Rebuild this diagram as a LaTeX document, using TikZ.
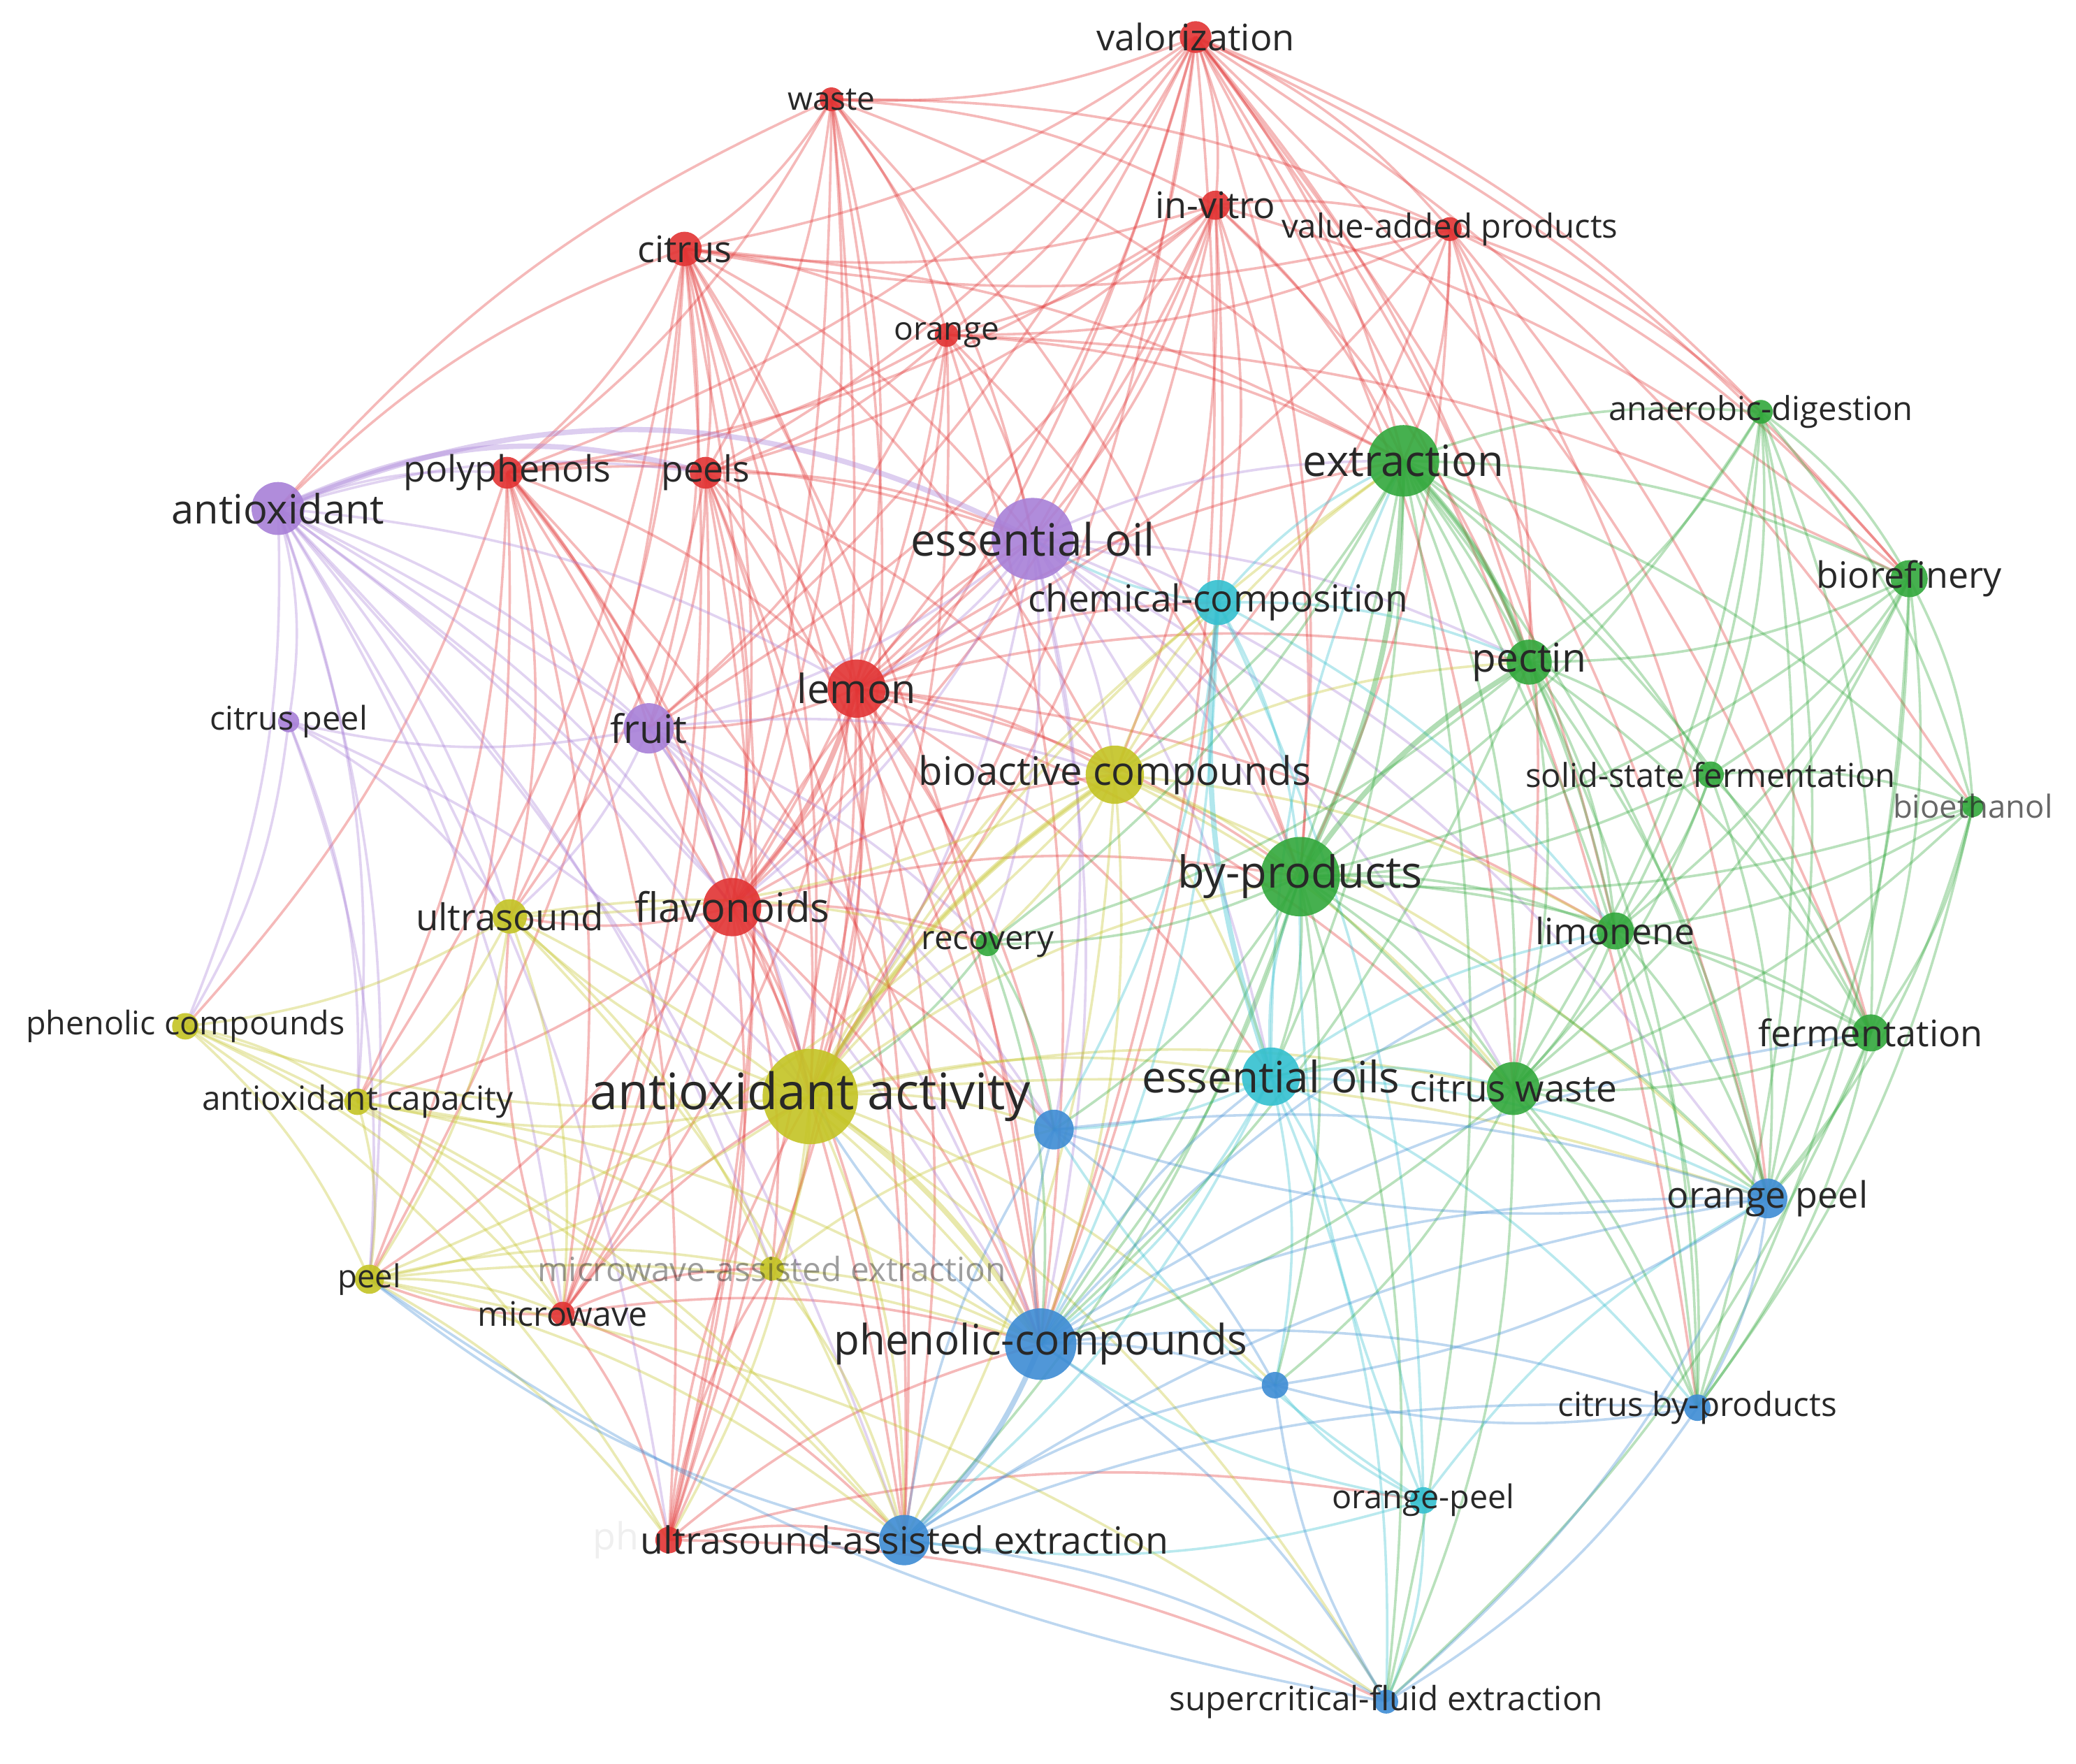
\documentclass[tikz,border=0pt]{standalone}
\usepackage{fontspec}
\setmainfont{Open Sans}
\usetikzlibrary{backgrounds}
\definecolor{cR}{RGB}{226,52,52}
\definecolor{cY}{RGB}{196,196,36}
\definecolor{cP}{RGB}{168,128,216}
\definecolor{cC}{RGB}{52,192,208}
\definecolor{cG}{RGB}{50,168,60}
\definecolor{cB}{RGB}{62,140,212}
\definecolor{txt}{RGB}{40,40,40}
\begin{document}
\begin{tikzpicture}[x=0.5pt,y=-0.5pt,
  kw/.style={circle,inner sep=0pt,minimum size=#1},
  lab/.style={text=txt,inner sep=0pt,font=\fontsize{#1}{#1}\selectfont},
  e/.style={draw opacity=0.34,line width=0.95pt,bend left=12},
  et/.style={draw opacity=0.38,line width=2pt,bend left=12}]
\useasboundingbox (0,0) rectangle (1568,1332);
% ---------- nodes (circles) ----------
\foreach \n/\x/\y/\r/\c in {
 valor/903/28/12/cR, waste/628/75/9/cR, invitro/918/155/11/cR, vap/1095/173/9/cR,
 citrus/517/188/13/cR, orange/715/253/9/cR, polyph/383/357/12/cR, peels/533/357/12/cR,
 lemon/647/520/22/cR, flav/553/685/22/cR, micro/425/992/9/cR, ph/505/1163/10/cR,
 aa/612/828/36/cY, bioact/842/585/22/cY, ultra/385/692/13/cY, phenc/140/775/10/cY,
 acap/270/832/10/cY, peel/279/966/11/cY, mae/583/958/9/cY,
 antiox/210/384/20/cP, eoil/780/407/31/cP, fruit/490/550/19/cP, cpeel/218/545/8/cP,
 chem/920/455/17/cC, eoils/960/813/22/cC, opeeltwo/1075/1133/10/cC,
 extr/1060/348/27/cG, anaer/1330/311/9/cG, bioref/1442/437/14/cG, pectin/1155/500/17/cG,
 ssf/1292/585/10/cG, bioeth/1490/609/8/cG, byp/982/662/30/cG, limon/1220/703/14/cG,
 recov/746/713/9/cG, ferm/1413/780/14/cG, cwaste/1143/822/20/cG,
 phc/786/1015/27/cB, uae/683/1163/19/cB, opeel/1335/905/15/cB, cbyp/1282/1063/10/cB,
 sfe/1047/1285/9/cB, bone/796/853/15/cB, btwo/963/1046/10/cB}
 {\node[kw=\r pt,fill=\c,fill opacity=0.9] (\n) at (\x,\y) {};}
\coordinate (phlab) at (483,1163);
% ---------- edges ----------
\begin{scope}[on background layer]
\fill[white] (0,0) rectangle (1568,1332);
\foreach \a/\b in {valor/waste,valor/invitro,valor/vap,valor/citrus,valor/orange,valor/peels,valor/lemon,valor/extr,valor/byp,valor/pectin,valor/anaer,valor/bioref,valor/cwaste,valor/opeel,valor/eoil,valor/aa,valor/polyph,valor/flav,valor/bioeth,valor/ferm,valor/phc,valor/cbyp,valor/limon,valor/fruit,
 waste/citrus,waste/invitro,waste/orange,waste/peels,waste/polyph,waste/lemon,waste/flav,waste/vap,waste/extr,waste/byp,antiox/waste,waste/aa,waste/micro,waste/ph,waste/eoil,
 invitro/citrus,invitro/vap,invitro/orange,invitro/lemon,invitro/flav,invitro/peels,invitro/polyph,invitro/aa,invitro/eoil,invitro/fruit,invitro/bioact,invitro/extr,invitro/byp,invitro/phc,invitro/chem,invitro/bioref,invitro/pectin,
 vap/orange,vap/extr,vap/byp,vap/pectin,vap/bioact,vap/lemon,vap/citrus,vap/anaer,vap/bioref,vap/ferm,vap/cwaste,vap/opeel,
 citrus/orange,citrus/polyph,citrus/peels,citrus/lemon,citrus/flav,citrus/fruit,citrus/aa,citrus/eoil,citrus/ultra,citrus/micro,citrus/ph,citrus/phc,citrus/uae,antiox/citrus,citrus/extr,citrus/bioact,citrus/peel,citrus/acap,
 orange/peels,orange/lemon,orange/flav,orange/eoil,orange/aa,orange/byp,orange/extr,orange/phc,orange/polyph,orange/bioref,orange/fruit,
 polyph/peels,polyph/lemon,polyph/flav,polyph/aa,polyph/ultra,polyph/micro,polyph/ph,polyph/fruit,polyph/phc,polyph/uae,polyph/peel,polyph/acap,polyph/eoil,polyph/phenc,
 peels/lemon,peels/flav,peels/aa,peels/fruit,peels/eoil,peels/micro,peels/phc,peels/uae,peels/ph,peels/bioact,peels/ultra,
 lemon/aa,lemon/eoil,lemon/fruit,lemon/bioact,lemon/byp,lemon/extr,lemon/chem,lemon/eoils,lemon/phc,lemon/uae,lemon/micro,lemon/ph,lemon/recov,lemon/pectin,lemon/cwaste,lemon/limon,lemon/bone,lemon/mae,
 flav/aa,flav/fruit,flav/ultra,flav/micro,flav/ph,flav/phc,flav/uae,flav/bioact,flav/byp,flav/eoil,flav/recov,flav/mae,flav/peel,flav/acap,flav/bone,
 micro/ph,micro/aa,micro/peel,micro/phc,micro/uae,micro/mae,micro/ultra,ph/uae,ph/aa,ph/phc,ph/opeeltwo,ph/sfe,ph/mae}
 {\draw[e,cR] (\a.center) to (\b.center);}
\foreach \a/\b in {antiox/cpeel,antiox/polyph,antiox/fruit,antiox/aa,antiox/ultra,antiox/phenc,antiox/acap,antiox/peel,antiox/peels,antiox/lemon,antiox/flav,antiox/bone,antiox/phc,antiox/uae,antiox/micro,antiox/ph,antiox/mae,
 eoil/fruit,eoil/chem,eoil/bioact,eoil/aa,eoil/lemon,eoil/byp,eoil/extr,eoil/eoils,eoil/phc,eoil/bone,eoil/cwaste,eoil/limon,eoil/opeel,eoil/pectin,eoil/flav,eoil/recov,
 fruit/cpeel,fruit/aa,fruit/bioact,fruit/ultra,fruit/flav,fruit/phc,fruit/bone,fruit/recov,
 cpeel/aa,cpeel/phenc,cpeel/acap,cpeel/peel,cpeel/ultra}
 {\draw[e,cP] (\a.center) to (\b.center);}
\foreach \a/\b in {aa/bioact,aa/ultra,aa/phenc,aa/acap,aa/peel,aa/mae,aa/uae,aa/bone,aa/byp,aa/eoils,aa/recov,aa/extr,aa/chem,aa/cwaste,aa/opeel,aa/sfe,aa/btwo,aa/ph,
 bioact/byp,bioact/extr,bioact/pectin,bioact/recov,bioact/phc,bioact/eoils,bioact/uae,bioact/ultra,bioact/chem,bioact/cwaste,bioact/limon,bioact/opeel,bioact/peel,
 ultra/phenc,ultra/acap,ultra/peel,ultra/mae,ultra/phc,ultra/uae,ultra/micro,ultra/recov,
 phenc/acap,phenc/peel,phenc/uae,phenc/micro,phenc/ph,acap/peel,acap/micro,acap/uae,acap/phc,acap/mae,
 peel/micro,peel/uae,peel/phc,peel/sfe,peel/ph,peel/mae,mae/phc,mae/uae,mae/bone}
 {\draw[e,cY] (\a.center) to (\b.center);}
\foreach \a/\b in {chem/eoil,chem/extr,chem/byp,chem/limon,chem/opeeltwo,chem/phc,chem/bone,chem/pectin,
 eoils/opeeltwo,eoils/byp,eoils/phc,eoils/bone,eoils/btwo,eoils/sfe,eoils/cwaste,eoils/limon,eoils/opeel,eoils/extr,eoils/cbyp,eoils/uae,
 opeeltwo/phc,opeeltwo/sfe,opeeltwo/btwo,opeeltwo/uae,opeeltwo/byp,opeeltwo/opeel,opeeltwo/bone}
 {\draw[e,cC] (\a.center) to (\b.center);}
\foreach \a/\b in {extr/anaer,extr/bioref,extr/pectin,extr/ssf,extr/limon,extr/ferm,extr/cwaste,extr/recov,extr/bioeth,extr/opeel,extr/phc,extr/eoils,extr/bioact,extr/cbyp,extr/sfe,
 anaer/bioref,anaer/pectin,anaer/byp,anaer/ssf,anaer/ferm,anaer/bioeth,anaer/limon,anaer/cwaste,anaer/opeel,anaer/cbyp,
 bioref/pectin,bioref/byp,bioref/ssf,bioref/bioeth,bioref/ferm,bioref/limon,bioref/cwaste,bioref/opeel,bioref/cbyp,
 pectin/ssf,pectin/limon,pectin/ferm,pectin/cwaste,pectin/recov,pectin/opeel,pectin/phc,pectin/cbyp,
 ssf/byp,ssf/bioeth,ssf/limon,ssf/ferm,ssf/cwaste,ssf/opeel,bioeth/ferm,bioeth/limon,bioeth/byp,bioeth/cwaste,bioeth/opeel,bioeth/cbyp,
 byp/limon,byp/ferm,byp/cwaste,byp/recov,byp/phc,byp/opeel,byp/eoils,byp/cbyp,byp/sfe,byp/bone,byp/btwo,byp/uae,
 limon/ferm,limon/cwaste,limon/opeel,limon/eoils,limon/cbyp,ferm/cwaste,ferm/opeel,ferm/cbyp,ferm/sfe,
 cwaste/opeel,cwaste/cbyp,cwaste/phc,cwaste/btwo,cwaste/sfe,recov/phc,recov/aa,recov/bone}
 {\draw[e,cG] (\a.center) to (\b.center);}
\foreach \a/\b in {phc/bone,phc/btwo,phc/opeel,phc/cbyp,phc/sfe,phc/eoils,phc/aa,phc/limon,phc/ferm,
 uae/sfe,uae/bone,uae/btwo,uae/opeel,uae/cbyp,uae/peel,opeel/cbyp,opeel/sfe,opeel/btwo,opeel/bone,
 cbyp/sfe,cbyp/btwo,sfe/btwo,bone/btwo,sfe/peel,bone/opeel}
 {\draw[e,cB] (\a.center) to (\b.center);}
% stronger links
\draw[et,cY] (aa.center) to (bioact.center);
\draw[et,cY] (aa.center) to (phc.center);
\draw[et,cR] (lemon.center) to (flav.center);
\draw[et,cG] (extr.center) to (byp.center);
\draw[et,cG] (byp.center) to (pectin.center);
\draw[et,cB] (phc.center) to (uae.center);
\draw[et,cC] (eoils.center) to (chem.center);
\draw[et,cP] (antiox.center) to[bend left=25] (eoil.center);
\draw[et,cP] (antiox.center) to[bend left=20] (peels.center);
\draw[et,cG] (extr.center) to (pectin.center);
\end{scope}
% ---------- labels ----------
\node[lab=13.8] at (valor) {valorization};
\node[lab=12.15] at (waste) {waste};
\node[lab=13.8] at (invitro) {in-vitro};
\node[lab=12.5] at (vap) {value-added products};
\node[lab=13.8] at (citrus) {citrus};
\node[lab=12.15] at (orange) {orange};
\node[lab=13.7] at (polyph) {polyphenols};
\node[lab=13.6] at (peels) {peels};
\node[lab=15.2] at (lemon) {lemon};
\node[lab=15.3] at (flav) {flavonoids};
\node[lab=12.75] at (micro) {microwave};
\node[lab=18.95] at (aa) {antioxidant activity};
\node[lab=14.85] at (bioact) {bioactive compounds};
\node[lab=13.95] at (ultra) {ultrasound};
\node[lab=12.3] at (phenc) {phenolic compounds};
\node[lab=12.6] at (acap) {antioxidant capacity};
\node[lab=12] at (peel) {peel};
\node[lab=12.6,text opacity=0.45] at (mae) {microwave-assisted extraction};
\node[lab=15.25] at (antiox) {antioxidant};
\node[lab=16.85] at (eoil) {essential oil};
\node[lab=14.85] at (fruit) {fruit};
\node[lab=12.35] at (cpeel) {citrus peel};
\node[lab=14.05] at (chem) {chemical-composition};
\node[lab=16.35] at (eoils) {essential oils};
\node[lab=12.35] at (opeeltwo) {orange-peel};
\node[lab=16.25] at (extr) {extraction};
\node[lab=12.45] at (anaer) {anaerobic-digestion};
\node[lab=13.7] at (bioref) {biorefinery};
\node[lab=15] at (pectin) {pectin};
\node[lab=12.45] at (ssf) {solid-state fermentation};
\node[lab=12,text opacity=0.7] at (bioeth) {bioethanol};
\node[lab=16.65] at (byp) {by-products};
\node[lab=13.7] at (limon) {limonene};
\node[lab=12.55] at (recov) {recovery};
\node[lab=13.8] at (ferm) {fermentation};
\node[lab=14.05] at (cwaste) {citrus waste};
\node[lab=15.85] at (phc) {phenolic-compounds};
\node[lab=13.75] at (opeel) {orange peel};
\node[lab=12.55] at (cbyp) {citrus by-products};
\node[lab=12.6] at (sfe) {supercritical-fluid extraction};
\node[lab=14.15,text opacity=0.07,anchor=east] at (phlab) {ph};
\node[lab=14.15] at (uae) {ultrasound-assisted extraction};
\end{tikzpicture}
\end{document}
